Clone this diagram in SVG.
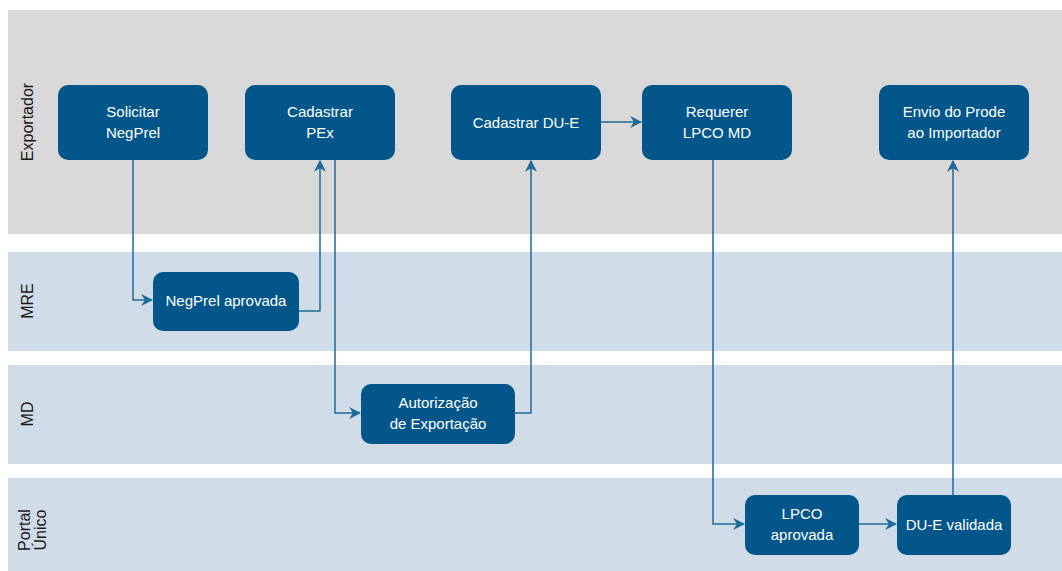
<svg xmlns="http://www.w3.org/2000/svg" width="1062" height="571" viewBox="0 0 1062 571">
<style>
.node rect{fill:#02568a;}
.node text{fill:#ffffff;font-family:"Liberation Sans",Arial,sans-serif;font-size:15px;text-anchor:middle;}
.lane-label{fill:#1a1a1a;font-family:"Liberation Sans",Arial,sans-serif;font-size:16px;text-anchor:middle;}
.conn path{fill:none;stroke:#1f6a99;stroke-width:1.5;}
</style>
<defs>
<marker id="arr" viewBox="0 0 10 10" refX="9" refY="5" markerWidth="12" markerHeight="12" markerUnits="userSpaceOnUse" orient="auto">
<path d="M0,0 L10,5 L0,10 L3,5 Z" fill="#1f6a99"/>
</marker>
</defs>
<rect width="1062" height="571" fill="#ffffff"/>
<g id="lanes">
<rect x="8" y="10" width="1054" height="224" fill="#d9d9d9"/>
<rect x="8" y="252" width="1054" height="99" fill="#d0dce7"/>
<rect x="8" y="365" width="1054" height="99" fill="#d0dce7"/>
<rect x="8" y="478" width="1054" height="93" fill="#d0dce7"/>
<text class="lane-label" transform="translate(33,122) rotate(-90)">Exportador</text>
<text class="lane-label" transform="translate(33,301) rotate(-90)">MRE</text>
<text class="lane-label" transform="translate(33,414) rotate(-90)">MD</text>
<text class="lane-label" transform="translate(30,530) rotate(-90)">Portal</text>
<text class="lane-label" transform="translate(46,530) rotate(-90)">Único</text>
</g>
<g id="connectors" class="conn">
<path d="M133,160 V300 H152" marker-end="url(#arr)"/>
<path d="M299,311 H320 V161" marker-end="url(#arr)"/>
<path d="M335,160 V413 H360" marker-end="url(#arr)"/>
<path d="M515,413 H531 V161" marker-end="url(#arr)"/>
<path d="M601,122 H641" marker-end="url(#arr)"/>
<path d="M713,160 V524 H744" marker-end="url(#arr)"/>
<path d="M859,524 H896" marker-end="url(#arr)"/>
<path d="M953,495 V161" marker-end="url(#arr)"/>
</g>
<g id="n-solicitar" class="node"><rect x="58" y="85" width="150" height="75" rx="10"/><text x="133" y="117">Solicitar</text><text x="133" y="138">NegPrel</text></g>
<g id="n-cadpex" class="node"><rect x="245" y="85" width="150" height="75" rx="10"/><text x="320" y="117">Cadastrar</text><text x="320" y="138">PEx</text></g>
<g id="n-caddue" class="node"><rect x="451" y="85" width="150" height="75" rx="10"/><text x="526" y="128">Cadastrar DU-E</text></g>
<g id="n-requerer" class="node"><rect x="642" y="85" width="150" height="75" rx="10"/><text x="717" y="117">Requerer</text><text x="717" y="138">LPCO MD</text></g>
<g id="n-envio" class="node"><rect x="879" y="85" width="150" height="75" rx="10"/><text x="954" y="117">Envio do Prode</text><text x="954" y="138">ao Importador</text></g>
<g id="n-negprel" class="node"><rect x="153" y="272" width="146" height="59" rx="10"/><text x="226" y="306">NegPrel aprovada</text></g>
<g id="n-autorizacao" class="node"><rect x="361" y="384" width="154" height="60" rx="10"/><text x="438" y="408">Autorização</text><text x="438" y="429">de Exportação</text></g>
<g id="n-lpco" class="node"><rect x="745" y="495" width="114" height="60" rx="10"/><text x="802" y="519">LPCO</text><text x="802" y="540">aprovada</text></g>
<g id="n-due" class="node"><rect x="897" y="495" width="114" height="60" rx="10"/><text x="954" y="530">DU-E validada</text></g>
</svg>
